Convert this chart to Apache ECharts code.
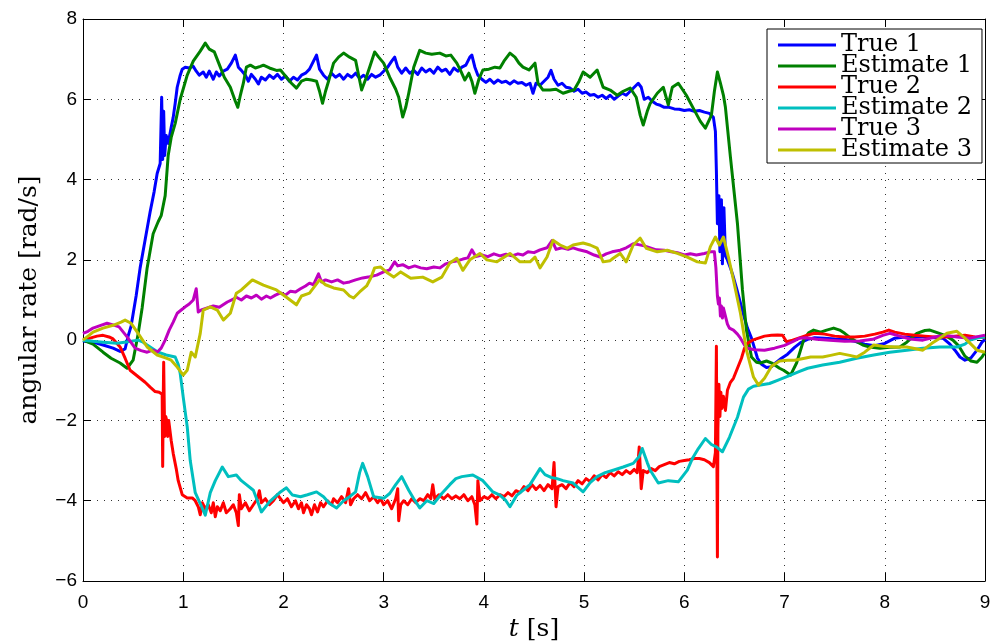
<!DOCTYPE html>
<html>
<head>
<meta charset="utf-8">
<script src="https://cdn.jsdelivr.net/npm/echarts@6/dist/echarts.min.js"></script>
<style>
  html, body { margin: 0; padding: 0; background: #fff; }
  #chart { width: 990px; height: 643px; }
</style>
</head>
<body>
<div id="chart"></div>
<script>
// Angular rate traces: measured ("True") and estimated, three axes. Points are [t (s), rate (rad/s)].
const seriesNames = ['True 1', 'Estimate 1', 'True 2', 'Estimate 2', 'True 3', 'Estimate 3'];
const seriesColors = ['#0000ff', '#008000', '#ff0000', '#00bfbf', '#bf00bf', '#bfbf00'];

const xTicks = [0, 1, 2, 3, 4, 5, 6, 7, 8, 9];
const yTicks = [-6, -4, -2, 0, 2, 4, 6, 8];

const true1 = [[0,-0.02],[0.1,-0.05],[0.2,-0.12],[0.3,-0.2],[0.37,-0.28],[0.42,-0.22],[0.45,0.1],[0.48,0.35],[0.5,0.65],[0.53,1.1],[0.57,1.8],[0.62,2.5],[0.67,3.2],[0.71,3.7],[0.74,4.15],[0.77,4.4],[0.785,6.05],[0.795,4.5],[0.805,5.7],[0.815,4.6],[0.83,5.1],[0.85,4.9],[0.88,5.3],[0.9,5.55],[0.92,5.9],[0.94,6.3],[0.97,6.6],[0.99,6.75],[1.02,6.8],[1.06,6.78],[1.1,6.82],[1.13,6.7],[1.16,6.6],[1.2,6.68],[1.23,6.55],[1.26,6.7],[1.3,6.5],[1.33,6.68],[1.36,6.58],[1.4,6.7],[1.44,6.75],[1.48,6.9],[1.52,7.1],[1.55,6.8],[1.58,6.72],[1.62,6.6],[1.65,6.45],[1.68,6.62],[1.72,6.5],[1.75,6.38],[1.78,6.55],[1.82,6.48],[1.86,6.6],[1.9,6.52],[1.94,6.62],[1.98,6.5],[2.02,6.58],[2.06,6.45],[2.1,6.55],[2.14,6.48],[2.18,6.6],[2.22,6.65],[2.26,6.75],[2.3,6.95],[2.33,7.1],[2.36,6.75],[2.4,6.6],[2.44,6.5],[2.48,6.65],[2.52,6.55],[2.56,6.62],[2.6,6.5],[2.64,6.62],[2.68,6.55],[2.72,6.65],[2.76,6.52],[2.8,6.6],[2.84,6.5],[2.88,6.62],[2.92,6.55],[2.96,6.6],[3.0,6.7],[3.04,6.8],[3.08,6.95],[3.11,7.05],[3.14,6.8],[3.18,6.65],[3.22,6.78],[3.26,6.65],[3.3,6.72],[3.34,6.62],[3.38,6.78],[3.42,6.68],[3.46,6.75],[3.5,6.65],[3.54,6.8],[3.58,6.7],[3.62,6.75],[3.66,6.62],[3.7,6.78],[3.74,6.7],[3.78,6.8],[3.82,6.85],[3.86,7.05],[3.88,7.1],[3.91,6.8],[3.94,6.6],[3.98,6.5],[4.02,6.42],[4.06,6.5],[4.1,6.4],[4.14,6.48],[4.18,6.42],[4.22,6.45],[4.26,6.38],[4.3,6.46],[4.34,6.4],[4.38,6.42],[4.42,6.35],[4.46,6.4],[4.49,6.15],[4.52,6.4],[4.56,6.35],[4.6,6.45],[4.64,6.55],[4.67,6.72],[4.7,6.5],[4.74,6.35],[4.78,6.4],[4.82,6.3],[4.86,6.28],[4.9,6.2],[4.94,6.25],[4.98,6.15],[5.02,6.18],[5.06,6.1],[5.1,6.12],[5.14,6.05],[5.18,6.1],[5.22,6.02],[5.26,6.1],[5.3,6.0],[5.34,6.08],[5.38,6.15],[5.42,6.1],[5.46,6.2],[5.5,6.3],[5.54,6.4],[5.57,6.3],[5.6,6.0],[5.64,6.05],[5.68,5.95],[5.72,5.88],[5.76,5.85],[5.8,5.8],[5.85,5.8],[5.9,5.76],[5.95,5.75],[6.0,5.72],[6.05,5.74],[6.1,5.7],[6.15,5.72],[6.2,5.68],[6.25,5.65],[6.29,5.55],[6.31,5.2],[6.32,4.2],[6.33,2.9],[6.345,3.6],[6.355,2.2],[6.37,3.5],[6.38,1.9],[6.395,3.3],[6.41,2.1],[6.43,2.0],[6.46,1.8],[6.48,1.65],[6.52,1.3],[6.56,0.92],[6.6,0.55],[6.63,0.3],[6.67,0.05],[6.7,-0.2],[6.73,-0.45],[6.77,-0.6],[6.82,-0.68],[6.87,-0.66],[6.92,-0.55],[6.97,-0.45],[7.03,-0.35],[7.1,-0.18],[7.16,-0.06],[7.23,0.02],[7.3,0.06],[7.4,0.05],[7.5,0.03],[7.6,0.02],[7.7,-0.03],[7.8,-0.1],[7.9,-0.14],[8.0,-0.08],[8.1,0.05],[8.2,0.08],[8.3,0.08],[8.4,0.08],[8.5,0.06],[8.58,0.05],[8.65,-0.1],[8.7,-0.25],[8.75,-0.42],[8.8,-0.5],[8.86,-0.44],[8.92,-0.25],[8.97,-0.05],[9.0,0.02]];

const estimate1 = [[0,0],[0.1,-0.1],[0.2,-0.3],[0.28,-0.45],[0.37,-0.57],[0.44,-0.7],[0.5,-0.5],[0.55,0.15],[0.59,0.8],[0.64,1.8],[0.7,2.65],[0.75,2.95],[0.78,3.1],[0.82,3.6],[0.85,4.6],[0.88,5.05],[0.92,5.4],[0.97,6.0],[1.04,6.6],[1.1,6.95],[1.17,7.2],[1.22,7.4],[1.26,7.25],[1.31,7.18],[1.37,6.8],[1.41,6.55],[1.47,6.3],[1.52,5.95],[1.545,5.8],[1.57,6.1],[1.6,6.4],[1.63,6.8],[1.67,6.85],[1.72,6.78],[1.77,6.82],[1.8,6.85],[1.86,6.78],[1.93,6.72],[1.97,6.73],[2.03,6.55],[2.08,6.4],[2.13,6.28],[2.18,6.45],[2.23,6.5],[2.28,6.48],[2.33,6.45],[2.36,6.2],[2.39,5.9],[2.42,6.2],[2.45,6.45],[2.5,6.9],[2.55,7.05],[2.6,7.15],[2.66,7.05],[2.72,6.97],[2.75,6.6],[2.78,6.23],[2.82,6.5],[2.86,6.8],[2.91,7.18],[2.95,7.05],[3.0,6.9],[3.06,6.55],[3.12,6.25],[3.15,6.05],[3.19,5.56],[3.22,5.8],[3.25,6.15],[3.3,6.8],[3.36,7.22],[3.42,7.15],[3.48,7.12],[3.56,7.15],[3.62,7.08],[3.67,7.1],[3.73,6.9],[3.77,6.7],[3.81,6.48],[3.85,6.65],[3.88,6.45],[3.91,6.15],[3.95,6.5],[3.99,6.73],[4.05,6.75],[4.11,6.8],[4.16,6.78],[4.2,6.95],[4.26,7.15],[4.31,7.05],[4.35,6.9],[4.39,6.8],[4.45,6.73],[4.51,6.9],[4.54,6.4],[4.59,6.23],[4.66,6.23],[4.72,6.25],[4.79,6.15],[4.85,6.2],[4.9,6.23],[4.95,6.45],[4.99,6.68],[5.06,6.55],[5.13,6.73],[5.19,6.3],[5.26,6.23],[5.33,6.1],[5.39,6.2],[5.46,6.28],[5.52,6.05],[5.56,5.6],[5.59,5.36],[5.63,5.7],[5.66,5.9],[5.73,6.15],[5.79,6.3],[5.84,5.86],[5.88,6.3],[5.94,6.4],[6.02,6.1],[6.11,5.68],[6.16,5.45],[6.21,5.28],[6.27,5.6],[6.3,6.2],[6.33,6.68],[6.36,6.4],[6.39,6.1],[6.41,5.8],[6.46,4.56],[6.53,2.9],[6.58,1.25],[6.62,0.25],[6.67,-0.42],[6.72,-0.55],[6.76,-0.57],[6.82,-0.52],[6.88,-0.58],[6.95,-0.7],[6.99,-0.75],[7.06,-0.87],[7.12,-0.57],[7.19,0.0],[7.24,0.18],[7.29,0.25],[7.36,0.2],[7.42,0.25],[7.49,0.3],[7.55,0.25],[7.6,0.17],[7.66,0.05],[7.72,-0.04],[7.78,-0.12],[7.85,-0.17],[7.95,-0.2],[8.05,-0.18],[8.15,-0.17],[8.22,-0.05],[8.32,0.17],[8.4,0.24],[8.45,0.25],[8.53,0.18],[8.6,0.12],[8.68,0.0],[8.74,-0.15],[8.8,-0.4],[8.86,-0.52],[8.92,-0.55],[8.97,-0.42],[9.0,-0.3]];

const true2 = [[0,0],[0.07,0.05],[0.14,0.1],[0.2,0.12],[0.26,0.08],[0.3,0.03],[0.37,-0.17],[0.42,-0.45],[0.47,-0.75],[0.52,-0.85],[0.57,-0.95],[0.62,-1.05],[0.67,-1.17],[0.72,-1.28],[0.76,-1.3],[0.79,-1.35],[0.795,-3.15],[0.8,-1.6],[0.805,-0.55],[0.815,-2.4],[0.825,-1.9],[0.835,-2.0],[0.845,-2.4],[0.855,-2.0],[0.88,-2.5],[0.9,-2.82],[0.93,-3.2],[0.95,-3.5],[0.99,-3.85],[1.04,-3.93],[1.09,-3.93],[1.12,-4.0],[1.15,-4.15],[1.17,-4.35],[1.19,-4.05],[1.22,-4.2],[1.25,-4.1],[1.28,-4.3],[1.3,-4.05],[1.32,-4.4],[1.34,-4.15],[1.37,-4.25],[1.4,-4.05],[1.43,-4.3],[1.47,-4.2],[1.5,-4.1],[1.53,-4.3],[1.55,-4.62],[1.56,-3.85],[1.58,-4.2],[1.62,-4.05],[1.66,-4.25],[1.7,-4.1],[1.74,-3.95],[1.76,-3.75],[1.78,-4.05],[1.82,-3.95],[1.86,-4.1],[1.9,-4.0],[1.94,-3.85],[1.97,-3.95],[2.0,-4.05],[2.04,-3.95],[2.08,-4.15],[2.12,-4.0],[2.15,-4.2],[2.18,-4.05],[2.2,-4.3],[2.23,-4.1],[2.26,-4.2],[2.28,-4.35],[2.31,-4.1],[2.34,-4.28],[2.37,-4.05],[2.4,-4.15],[2.44,-4.0],[2.48,-4.1],[2.5,-3.95],[2.54,-4.05],[2.58,-3.9],[2.62,-4.05],[2.65,-3.7],[2.67,-4.1],[2.7,-3.95],[2.74,-3.85],[2.78,-3.95],[2.82,-3.8],[2.86,-4.0],[2.9,-3.9],[2.94,-4.05],[2.97,-3.95],[3.0,-4.1],[3.04,-4.0],[3.08,-4.2],[3.12,-3.95],[3.14,-3.7],[3.15,-4.5],[3.17,-4.1],[3.2,-4.0],[3.24,-4.1],[3.28,-3.95],[3.32,-4.05],[3.36,-3.95],[3.4,-4.0],[3.44,-3.85],[3.47,-3.95],[3.49,-3.6],[3.51,-3.95],[3.55,-3.85],[3.6,-3.95],[3.64,-3.85],[3.68,-3.95],[3.72,-3.88],[3.76,-3.95],[3.8,-3.85],[3.84,-4.0],[3.88,-3.9],[3.91,-4.1],[3.93,-4.58],[3.94,-3.5],[3.96,-4.0],[4.0,-3.9],[4.04,-3.95],[4.08,-3.85],[4.12,-3.95],[4.16,-3.85],[4.2,-3.9],[4.24,-3.8],[4.28,-3.88],[4.32,-3.75],[4.36,-3.8],[4.4,-3.65],[4.44,-3.75],[4.48,-3.6],[4.52,-3.72],[4.56,-3.62],[4.6,-3.75],[4.64,-3.6],[4.68,-3.7],[4.7,-3.05],[4.72,-4.15],[4.74,-3.65],[4.78,-3.6],[4.82,-3.7],[4.86,-3.55],[4.9,-3.65],[4.94,-3.5],[4.98,-3.58],[5.02,-3.45],[5.06,-3.52],[5.1,-3.38],[5.14,-3.48],[5.18,-3.35],[5.22,-3.42],[5.26,-3.3],[5.3,-3.38],[5.34,-3.28],[5.38,-3.35],[5.42,-3.25],[5.46,-3.32],[5.5,-3.22],[5.53,-3.3],[5.55,-2.66],[5.57,-3.7],[5.59,-3.25],[5.63,-3.3],[5.67,-3.2],[5.71,-3.25],[5.75,-3.15],[5.8,-3.1],[5.85,-3.05],[5.9,-3.08],[5.95,-3.02],[6.0,-3.0],[6.05,-2.98],[6.1,-2.95],[6.15,-2.95],[6.2,-2.98],[6.25,-3.05],[6.29,-3.15],[6.31,-2.8],[6.32,-0.15],[6.325,-3.0],[6.33,-5.4],[6.335,-2.2],[6.345,-1.1],[6.355,-1.9],[6.365,-1.3],[6.375,-1.7],[6.39,-1.4],[6.41,-1.75],[6.43,-1.25],[6.46,-1.05],[6.49,-0.95],[6.53,-0.7],[6.57,-0.45],[6.6,-0.2],[6.63,-0.08],[6.68,0.0],[6.74,0.05],[6.8,0.1],[6.87,0.12],[6.93,0.13],[6.98,0.12],[7.02,-0.04],[7.08,0.0],[7.14,0.05],[7.22,0.12],[7.3,0.17],[7.4,0.15],[7.5,0.1],[7.6,0.08],[7.7,0.08],[7.8,0.1],[7.9,0.15],[7.98,0.2],[8.04,0.25],[8.1,0.2],[8.2,0.15],[8.3,0.12],[8.4,0.1],[8.5,0.08],[8.6,0.08],[8.7,0.1],[8.8,0.12],[8.9,0.08],[9.0,0.06]];

const estimate2 = [[0,0],[0.1,-0.03],[0.2,-0.05],[0.34,-0.08],[0.45,-0.04],[0.55,0.0],[0.6,-0.05],[0.64,-0.12],[0.7,-0.22],[0.75,-0.3],[0.83,-0.37],[0.92,-0.42],[0.95,-0.6],[0.97,-0.83],[1.0,-1.42],[1.04,-2.16],[1.07,-3.0],[1.12,-3.8],[1.17,-4.07],[1.22,-4.36],[1.27,-3.8],[1.32,-3.5],[1.39,-3.16],[1.45,-3.4],[1.53,-3.36],[1.58,-3.5],[1.63,-3.6],[1.7,-3.74],[1.74,-4.0],[1.78,-4.28],[1.86,-4.03],[1.97,-3.78],[2.03,-3.68],[2.09,-3.86],[2.17,-3.9],[2.24,-3.85],[2.33,-3.78],[2.4,-3.9],[2.46,-4.07],[2.53,-4.18],[2.6,-4.0],[2.66,-3.9],[2.72,-3.78],[2.76,-3.3],[2.79,-3.07],[2.84,-3.4],[2.9,-3.9],[3.0,-3.94],[3.06,-3.82],[3.12,-3.6],[3.18,-3.4],[3.25,-3.74],[3.3,-3.95],[3.36,-4.18],[3.43,-4.0],[3.5,-4.07],[3.58,-3.82],[3.66,-3.6],[3.72,-3.45],[3.78,-3.4],[3.89,-3.36],[3.99,-3.5],[4.09,-3.78],[4.16,-3.86],[4.22,-4.0],[4.26,-4.15],[4.33,-3.86],[4.4,-3.72],[4.46,-3.6],[4.51,-3.4],[4.56,-3.2],[4.61,-3.35],[4.67,-3.42],[4.73,-3.45],[4.79,-3.5],[4.89,-3.56],[4.99,-3.78],[5.06,-3.55],[5.13,-3.4],[5.21,-3.3],[5.29,-3.24],[5.39,-3.16],[5.49,-3.07],[5.55,-2.9],[5.58,-2.7],[5.63,-3.05],[5.66,-3.24],[5.74,-3.56],[5.84,-3.5],[5.94,-3.53],[6.03,-3.24],[6.08,-2.95],[6.14,-2.7],[6.21,-2.45],[6.27,-2.6],[6.32,-2.66],[6.38,-2.78],[6.45,-2.42],[6.53,-1.92],[6.59,-1.42],[6.64,-1.22],[6.69,-1.15],[6.76,-1.12],[6.85,-1.08],[6.93,-1.0],[7.06,-0.87],[7.15,-0.78],[7.23,-0.7],[7.38,-0.62],[7.55,-0.55],[7.72,-0.45],[7.89,-0.37],[8.05,-0.3],[8.22,-0.25],[8.38,-0.2],[8.55,-0.17],[8.72,-0.17],[8.8,-0.1],[8.85,0.0],[8.93,0.06],[9.0,0.08]];

const true3 = [[0,0.17],[0.05,0.22],[0.1,0.3],[0.17,0.36],[0.24,0.42],[0.3,0.38],[0.36,0.33],[0.44,0.08],[0.52,-0.2],[0.58,-0.26],[0.64,-0.3],[0.7,-0.25],[0.74,-0.3],[0.78,-0.2],[0.82,0.0],[0.86,0.25],[0.9,0.45],[0.94,0.67],[0.98,0.75],[1.02,0.83],[1.06,0.9],[1.1,1.0],[1.13,1.28],[1.15,0.7],[1.18,0.75],[1.24,0.8],[1.3,0.85],[1.36,0.82],[1.44,0.95],[1.5,1.02],[1.53,1.07],[1.58,1.0],[1.63,1.1],[1.68,1.05],[1.73,1.12],[1.78,1.02],[1.83,1.1],[1.87,1.05],[1.92,1.12],[1.97,1.18],[2.02,1.12],[2.07,1.22],[2.12,1.2],[2.17,1.28],[2.22,1.35],[2.26,1.42],[2.3,1.38],[2.35,1.65],[2.38,1.45],[2.42,1.5],[2.48,1.45],[2.54,1.5],[2.6,1.42],[2.66,1.45],[2.72,1.5],[2.79,1.55],[2.86,1.58],[2.93,1.62],[3.0,1.7],[3.06,1.75],[3.11,1.95],[3.14,1.85],[3.19,1.88],[3.25,1.8],[3.31,1.85],[3.37,1.8],[3.43,1.78],[3.5,1.82],[3.56,1.8],[3.62,1.9],[3.68,1.95],[3.74,1.98],[3.79,2.02],[3.84,2.05],[3.88,2.25],[3.92,2.08],[3.98,2.12],[4.04,2.08],[4.1,2.15],[4.16,2.1],[4.22,2.14],[4.28,2.1],[4.34,2.15],[4.39,2.12],[4.44,2.2],[4.5,2.18],[4.56,2.25],[4.63,2.3],[4.68,2.48],[4.72,2.26],[4.78,2.3],[4.84,2.26],[4.89,2.3],[4.95,2.25],[5.03,2.2],[5.1,2.12],[5.16,2.07],[5.22,2.15],[5.28,2.2],[5.36,2.24],[5.42,2.3],[5.49,2.4],[5.54,2.38],[5.6,2.35],[5.66,2.3],[5.72,2.25],[5.8,2.24],[5.87,2.2],[5.93,2.18],[6.0,2.12],[6.06,2.15],[6.12,2.12],[6.2,2.16],[6.26,2.2],[6.3,2.2],[6.315,1.8],[6.33,1.1],[6.34,0.9],[6.35,1.05],[6.36,0.6],[6.37,0.85],[6.38,0.55],[6.39,0.8],[6.41,0.6],[6.43,0.4],[6.45,0.3],[6.49,0.25],[6.53,0.15],[6.56,0.05],[6.6,-0.12],[6.63,-0.2],[6.7,-0.24],[6.8,-0.25],[6.9,-0.2],[7.0,-0.13],[7.08,-0.04],[7.15,0.05],[7.22,0.06],[7.32,0.02],[7.45,0.0],[7.6,-0.03],[7.75,-0.02],[7.88,0.02],[7.98,0.12],[8.05,0.17],[8.15,0.1],[8.25,0.03],[8.38,0.0],[8.5,0.08],[8.6,0.12],[8.72,0.08],[8.85,0.05],[8.95,0.1],[9.0,0.12]];

const estimate3 = [[0,0.0],[0.1,0.2],[0.2,0.3],[0.3,0.37],[0.38,0.45],[0.42,0.5],[0.48,0.42],[0.55,0.17],[0.64,-0.17],[0.74,-0.37],[0.83,-0.45],[0.88,-0.5],[0.94,-0.67],[1.0,-0.87],[1.04,-0.75],[1.08,-0.3],[1.12,-0.42],[1.17,0.17],[1.2,0.75],[1.27,0.83],[1.34,0.75],[1.4,0.5],[1.47,0.67],[1.53,1.17],[1.58,1.25],[1.69,1.5],[1.8,1.37],[1.93,1.25],[2.03,1.07],[2.13,0.88],[2.18,1.1],[2.26,1.17],[2.36,1.5],[2.42,1.38],[2.5,1.3],[2.6,1.25],[2.66,1.1],[2.7,1.05],[2.76,1.2],[2.83,1.35],[2.87,1.54],[2.91,1.8],[2.97,1.82],[3.04,1.67],[3.1,1.57],[3.17,1.7],[3.27,1.54],[3.39,1.57],[3.49,1.45],[3.58,1.57],[3.66,1.92],[3.73,2.04],[3.79,1.74],[3.86,2.0],[3.96,2.16],[4.03,2.0],[4.13,1.95],[4.26,2.16],[4.36,1.95],[4.46,1.95],[4.51,2.07],[4.56,1.8],[4.63,2.07],[4.69,2.49],[4.76,2.37],[4.83,2.29],[4.89,2.37],[4.99,2.42],[5.06,2.37],[5.13,2.29],[5.19,1.95],[5.26,1.98],[5.29,2.04],[5.36,2.16],[5.42,1.95],[5.49,2.37],[5.56,2.54],[5.62,2.29],[5.73,2.2],[5.83,2.24],[5.93,2.16],[6.03,2.07],[6.13,1.95],[6.21,1.92],[6.26,2.33],[6.31,2.57],[6.35,2.37],[6.39,2.57],[6.44,2.07],[6.49,1.5],[6.56,0.67],[6.62,-0.25],[6.69,-0.92],[6.74,-1.12],[6.8,-0.95],[6.87,-0.65],[6.95,-0.52],[7.03,-0.5],[7.1,-0.5],[7.2,-0.45],[7.26,-0.42],[7.38,-0.42],[7.46,-0.38],[7.55,-0.33],[7.65,-0.38],[7.72,-0.42],[7.8,-0.3],[7.89,-0.12],[7.98,-0.15],[8.1,-0.17],[8.22,-0.17],[8.32,-0.22],[8.38,-0.25],[8.47,-0.08],[8.55,0.05],[8.62,0.17],[8.72,0.22],[8.8,0.05],[8.86,-0.1],[8.92,-0.25],[9.0,-0.3]];

const seriesData = [true1, estimate1, true2, estimate2, true3, estimate3];

const chart = echarts.init(document.getElementById('chart'), null, { renderer: 'canvas' });

const tickFont = { fontFamily: 'Liberation Sans, Arial, sans-serif', fontSize: 19, color: '#000' };
const minus = v => String(v).replace('-', '\u2212');
const gridLine = { show: true, lineStyle: { color: '#333', width: 1, type: [1, 6] } };
const axisLine = { show: true, onZero: false, lineStyle: { color: '#000', width: 1 } };
const innerTick = { show: true, inside: true, length: 8, lineStyle: { color: '#000', width: 1 } };

chart.setOption({
  animation: false,
  backgroundColor: '#fff',
  grid: { left: 83, right: 5, top: 19, bottom: 62, containLabel: false, outerBoundsMode: 'none' },
  legend: {
    data: seriesNames,
    orient: 'vertical',
    left: 767,
    top: 29,
    padding: [4, 10, 1, 11],
    itemGap: -3,
    itemWidth: 58,
    itemHeight: 3,
    icon: 'rect',
    selectedMode: false,
    backgroundColor: '#fff',
    borderColor: '#000',
    borderWidth: 1,
    borderRadius: 0,
    z: 10,
    textStyle: { fontFamily: 'DejaVu Serif', fontSize: 24, lineHeight: 21, color: '#000' }
  },
  xAxis: [
    {
      type: 'value', min: 0, max: 9, interval: 1,
      axisLine, axisTick: innerTick, splitLine: gridLine,
      axisLabel: Object.assign({ margin: 12, formatter: v => minus(v) }, tickFont),
      name: '{it|t} [s]',
      nameLocation: 'middle',
      nameGap: 34,
      nameTextStyle: {
        fontFamily: 'DejaVu Serif', fontSize: 25, color: '#000',
        rich: { it: { fontFamily: 'DejaVu Serif', fontStyle: 'italic', fontSize: 25, color: '#000' } }
      }
    },
    {
      type: 'value', min: 0, max: 9, interval: 1, position: 'top',
      axisLine, axisTick: innerTick, splitLine: { show: false }, axisLabel: { show: false }
    }
  ],
  yAxis: [
    {
      type: 'value', min: -6, max: 8, interval: 2,
      axisLine, axisTick: innerTick, splitLine: gridLine,
      axisLabel: Object.assign({ margin: 6, formatter: v => minus(v) }, tickFont),
      name: 'angular rate [rad/s]',
      nameLocation: 'middle',
      nameGap: 41,
      nameTextStyle: { fontFamily: 'DejaVu Serif', fontSize: 25, color: '#000' }
    },
    {
      type: 'value', min: -6, max: 8, interval: 2, position: 'right',
      axisLine, axisTick: innerTick, splitLine: { show: false }, axisLabel: { show: false }
    }
  ],
  series: seriesNames.map((name, i) => ({
    name,
    type: 'line',
    data: seriesData[i],
    color: seriesColors[i],
    showSymbol: false,
    symbol: 'none',
    clip: true,
    lineStyle: { width: 3, color: seriesColors[i], join: 'round' },
    emphasis: { disabled: true }
  }))
});
</script>
</body>
</html>
